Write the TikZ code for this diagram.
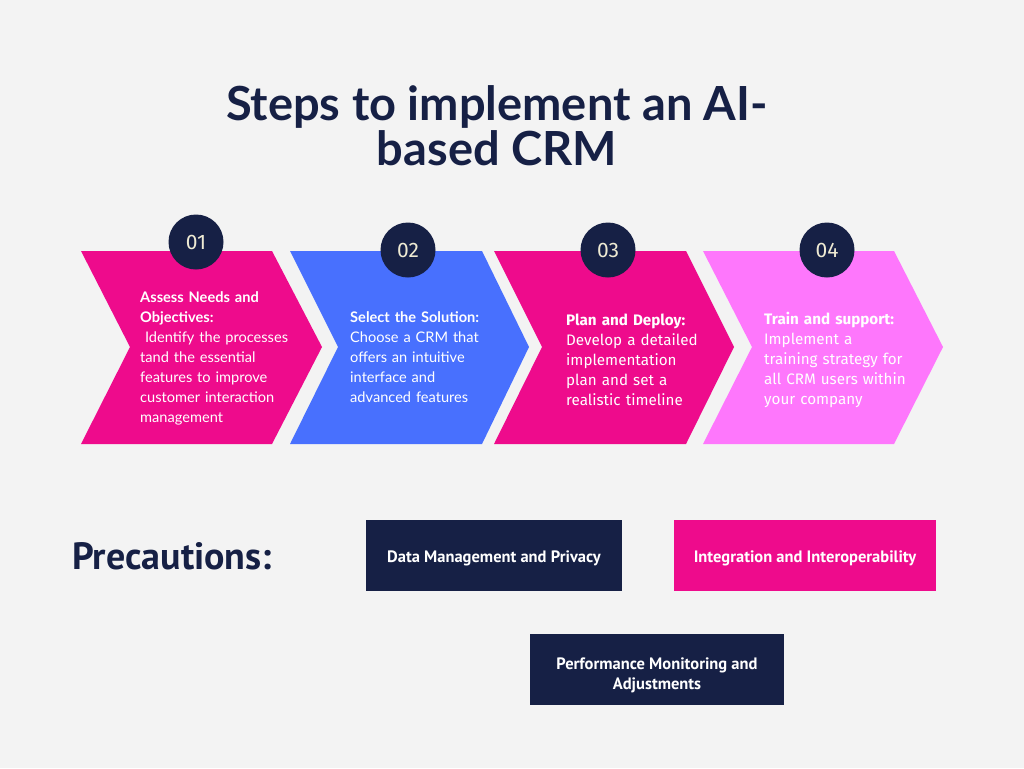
\documentclass[tikz,border=0pt]{standalone}
\usepackage{fontspec}
\setmainfont{Lato}
\newfontfamily\plex{Fira Sans}
\newfontfamily\cond{PT Sans}
\definecolor{bgc}{HTML}{F3F3F3}
\definecolor{pinkc}{HTML}{EE0B8C}
\definecolor{bluec}{HTML}{4870FE}
\definecolor{lpinkc}{HTML}{FE77FC}
\definecolor{navyc}{HTML}{162045}
\definecolor{numc}{HTML}{EEEAD3}
\tikzset{
  numcirc/.style={circle, fill=navyc, minimum size=55pt, inner sep=0pt, text=numc, font=\plex\fontsize{21}{24}\selectfont},
  steptext/.style={anchor=north west, inner sep=0pt, align=left, text=white, text width=#1},
  precbox/.style={minimum width=#1, minimum height=71pt, inner sep=0pt, text=white, align=center, font=\cond\bfseries\fontsize{16.5}{20}\selectfont},
}
\begin{document}
\begin{tikzpicture}[x=1pt,y=-1pt]
\fill[bgc] (0,0) rectangle (1024,768);
\useasboundingbox (0,0) rectangle (1024,768);
% title
\node[text=navyc, align=center, font=\bfseries\fontsize{47}{45}\selectfont, anchor=base] (title) at (497,165) {Steps to implement an AI-\\based CRM};
% chevrons
\fill[pinkc] (81,251) -- (272,251) -- (322,347) -- (272,444) -- (81,444) -- (130,347) -- cycle;
\fill[bluec] (290,251) -- (482,251) -- (529,347) -- (482,444) -- (290,444) -- (338,347) -- cycle;
\fill[pinkc] (494,251) -- (686,251) -- (734,347) -- (686,444) -- (494,444) -- (542,347) -- cycle;
\fill[lpinkc] (703,251) -- (894,251) -- (943,347) -- (894,444) -- (703,444) -- (752,347) -- cycle;
% numbers
\node[numcirc] (n1) at (196,242) {01};
\node[numcirc] (n2) at (408,250) {02};
\node[numcirc] (n3) at (608,250) {03};
\node[numcirc] (n4) at (827,250) {04};
% step texts
\node[steptext=175pt, font=\fontsize{14.6}{20}\selectfont] (t1) at (140,291.5) {\textbf{Assess Needs and}\\\textbf{Objectives:}\\\ Identify the processes\\tand the essential\\features to improve\\customer interaction\\management};
\node[steptext=175pt, font=\fontsize{14.6}{20}\selectfont] (t2) at (350,311.5) {\textbf{Select the Solution:}\\Choose a CRM that\\offers an intuitive\\interface and\\advanced features};
\node[steptext=175pt, font=\plex\fontsize{15.2}{20}\selectfont] (t3) at (566,313.5) {\textbf{Plan and Deploy:}\\Develop a detailed\\implementation\\plan and set a\\realistic timeline};
\node[steptext=175pt, font=\plex\fontsize{15.2}{20}\selectfont] (t4) at (764,311.5) {\textbf{Train and support:}\\Implement a\\training strategy for\\all CRM users within\\your company};
% precautions
\node[anchor=west, inner sep=0pt, text=navyc, font=\cond\bfseries\fontsize{38}{40}\selectfont] (prec) at (72,556) {Precautions:};
\node[precbox=256pt, fill=navyc] (p1) at (494,555.5) {\rule{0pt}{17pt}Data Management and Privacy};
\node[precbox=262pt, fill=pinkc] (p2) at (805,555.5) {\rule{0pt}{17pt}Integration and Interoperability};
\node[precbox=254pt, fill=navyc] (p3) at (657,669.5) {\rule{0pt}{24pt}Performance Monitoring and\\Adjustments};
\end{tikzpicture}
\end{document}
